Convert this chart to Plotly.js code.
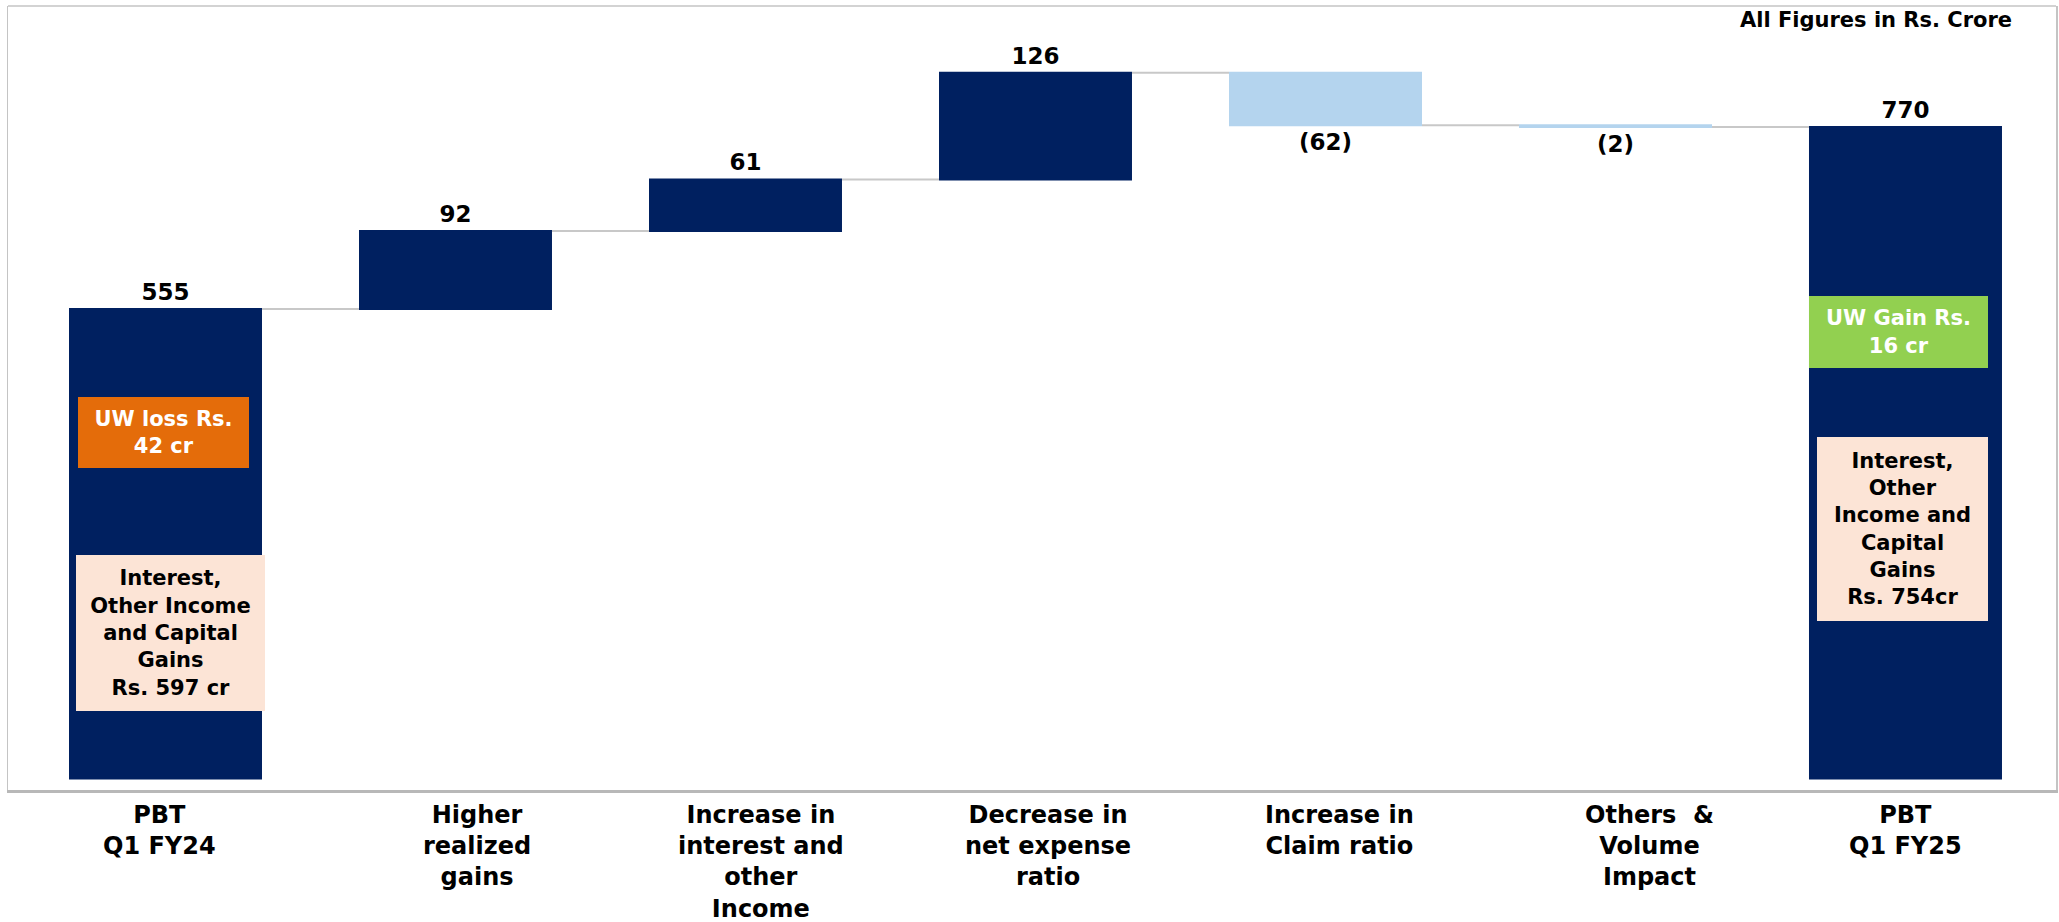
<!DOCTYPE html>
<html>
<head>
<meta charset="utf-8">
<script src="https://cdn.plot.ly/plotly-3.0.1.min.js"></script>
<style>
  html, body { margin: 0; padding: 0; background: #ffffff; }
  #chart { width: 2059px; height: 922px; }
</style>
</head>
<body>
<div id="chart"></div>
<script>
// ---- data ----
const categories = [
  "PBT<br>Q1 FY24",
  "Higher<br>realized<br>gains",
  "Increase in<br>interest and<br>other<br>Income",
  "Decrease in<br>net expense<br>ratio",
  "Increase in<br>Claim ratio",
  "Others \u00a0&<br>Volume<br>Impact",
  "PBT<br>Q1 FY25"
];
const measures = ["absolute", "relative", "relative", "relative", "relative", "relative", "total"];
const values = [555, 92, 61, 126, -62, -2, 770];
const unitNote = "All Figures in Rs. Crore";
const uwLossText = "UW loss Rs.<br>42 cr";
const incomeFY24Text = "Interest,<br>Other Income<br>and Capital<br>Gains<br>Rs. 597 cr";
const uwGainText = "UW Gain Rs.<br>16 cr";
const incomeFY25Text = "Interest,<br>Other<br>Income and<br>Capital<br>Gains<br>Rs. 754cr";

// ---- styling ----
const NAVY = "#002060";
const LIGHT_BLUE = "#b4d4ee";
const FONT = "DejaVu Sans";
const labelText = values.map(v => v < 0 ? "(" + (-v) + ")" : String(v));
const catIdx = categories.map((c, i) => i);
const labelShift = [-6, 21, 15, 13, 14, 34, 0];

const trace = {
  type: "waterfall",
  x: catIdx,
  y: values,
  measure: measures,
  text: labelText,
  textinfo: "text",
  textposition: "outside",
  constraintext: "none",
  cliponaxis: false,
  textfont: { family: FONT, size: 23, color: "#000000", weight: "bold" },
  increasing: { marker: { color: NAVY } },
  decreasing: { marker: { color: LIGHT_BLUE } },
  totals: { marker: { color: NAVY } },
  connector: { mode: "between", line: { color: "#c8c8c8", width: 2 } },
  hoverinfo: "skip"
};

const annotations = [];
categories.forEach((c, i) => {
  annotations.push({
    xref: "x", yref: "paper", x: i, y: -0.012,
    xanchor: "center", yanchor: "top", xshift: labelShift[i],
    text: c, showarrow: false, align: "center",
    font: { family: FONT, size: 24, color: "#000000", weight: "bold" }
  });
});
annotations.push({
  xref: "paper", yref: "paper", x: 0.9795, y: 0.982,
  xanchor: "right", yanchor: "middle", showarrow: false,
  text: unitNote,
  font: { family: FONT, size: 21, color: "#000000", weight: "bold" }
});
function box(x, y, w, h, text, bg, color) {
  return {
    xref: "paper", yref: "paper", x: x, y: y, xanchor: "center", yanchor: "middle",
    width: w, height: h, bgcolor: bg, borderpad: 0, borderwidth: 0,
    showarrow: false, align: "center", valign: "middle", text: text,
    font: { family: FONT, size: 21, color: color, weight: "bold" }
  };
}
annotations.push(box(0.07593, 0.4554, 171, 71, uwLossText, "#e46c0a", "#ffffff"));
annotations.push(box(0.07935, 0.2003, 189, 156, incomeFY24Text, "#fce4d6", "#000000"));
annotations.push(box(0.92310, 0.5842, 179, 72, uwGainText, "#92d050", "#ffffff"));
annotations.push(box(0.92505, 0.3329, 171, 184, incomeFY25Text, "#fce4d6", "#000000"));

const layout = {
  width: 2059, height: 922,
  margin: { l: 8, r: 3, t: 6, b: 132 },
  paper_bgcolor: "#ffffff", plot_bgcolor: "#ffffff",
  showlegend: false,
  waterfallgap: 0.3345,
  xaxis: {
    range: [-0.5431, 6.519], showgrid: false, zeroline: false,
    showticklabels: false, ticks: "",
    showline: true, linecolor: "#b8b8b8", linewidth: 3, mirror: false
  },
  yaxis: {
    range: [-13.6, 913], showgrid: false, zeroline: false,
    showticklabels: false, ticks: "",
    showline: true, linecolor: "#c4c4c4", linewidth: 1.5, mirror: true
  },
  shapes: [
    { type: "line", xref: "paper", yref: "paper", x0: 0, x1: 1, y0: 1, y1: 1,
      line: { color: "#c4c4c4", width: 1.5 } }
  ],
  annotations: annotations
};

Plotly.newPlot("chart", [trace], layout, { staticPlot: true, displayModeBar: false });
</script>
</body>
</html>
